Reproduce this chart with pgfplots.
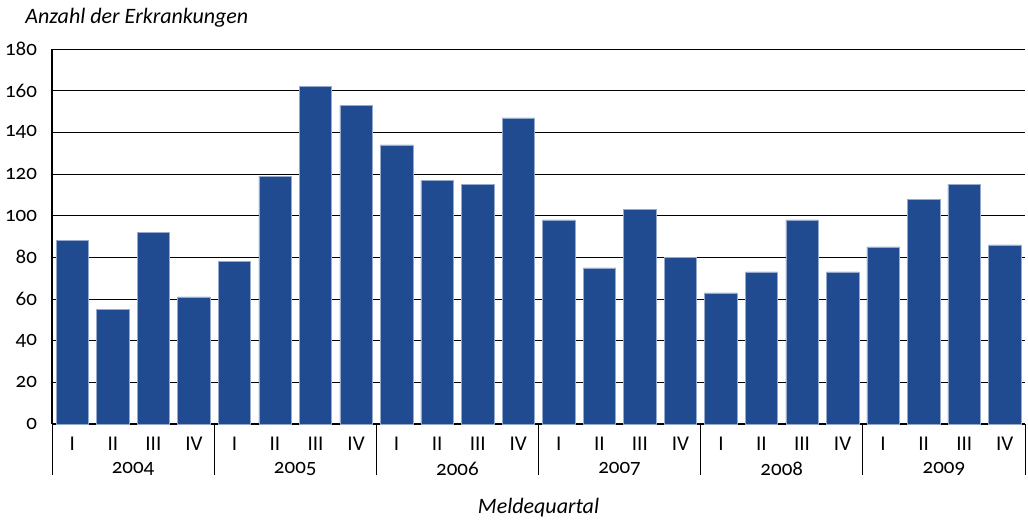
\documentclass[border=0pt]{standalone}
\usepackage{pgfplots}
\pgfplotsset{compat=1.18}
\usepackage{fontspec}
\setmainfont[Numbers=OldStyle]{Carlito}
\definecolor{barblue}{RGB}{33,75,145}
\definecolor{baredge}{RGB}{150,170,205}
\newcommand{\fs}{\fontsize{10.5}{12}\selectfont}
\newcommand{\fl}{\fontsize{11}{13}\selectfont}
\begin{document}
\begin{tikzpicture}
\path[use as bounding box] (-26pt,-48pt) rectangle (488pt,212pt);
\begin{axis}[
  at={(0,0)}, anchor=south west, scale only axis,
  width=486.5pt, height=187.5pt,
  xmin=-0.5, xmax=23.5, ymin=0, ymax=180,
  ytick={0,20,...,180},
  xtick={0,...,23},
  xticklabels={I,II,III,IV,I,II,III,IV,I,II,III,IV,I,II,III,IV,I,II,III,IV,I,II,III,IV},
  ymajorgrids, grid style={black, line width=0.5pt},
  axis x line*=bottom, axis y line*=left,
  axis line style={black, -},
  x axis line style={line width=1pt},
  y axis line style={line width=0.6pt},
  major tick length=0pt,
  extra x ticks={-0.5,3.5,7.5,11.5,15.5,19.5,23.5},
  extra x tick labels={},
  extra x tick style={major tick length=25.5pt, tick align=outside, tick style={black, line width=0.5pt}},
  /pgf/number format/assume math mode=true,
  ticklabel style={font=\fs},
  xticklabel style={yshift=-3pt},
  yticklabel style={xshift=-4pt},
  clip=false,
]
\addplot[ybar, bar width=0.8, fill=barblue, draw=baredge, line width=0.25pt] coordinates {
(0,88) (1,55) (2,92) (3,61)
(4,78) (5,119) (6,162) (7,153)
(8,134) (9,117) (10,115) (11,147)
(12,98) (13,75) (14,103) (15,80)
(16,63) (17,73) (18,98) (19,73)
(20,85) (21,108) (22,115) (23,86)};
\node[font=\fs] at (axis cs:1.5,0) [yshift=-22.5pt] {2004};
\node[font=\fs] at (axis cs:5.5,0) [yshift=-22.5pt] {2005};
\node[font=\fs] at (axis cs:9.5,0) [yshift=-22.5pt] {2006};
\node[font=\fs] at (axis cs:13.5,0) [yshift=-22.5pt] {2007};
\node[font=\fs] at (axis cs:17.5,0) [yshift=-22.5pt] {2008};
\node[font=\fs] at (axis cs:21.5,0) [yshift=-22.5pt] {2009};
\node[font=\fl\itshape] at (rel axis cs:0.5,0) [yshift=-42pt] {Meldequartal};
\node[font=\fl\itshape, anchor=west, inner sep=0pt] at (rel axis cs:0,1) [xshift=-13.5pt, yshift=15.5pt] {Anzahl der Erkrankungen};
\end{axis}
\end{tikzpicture}
\end{document}
